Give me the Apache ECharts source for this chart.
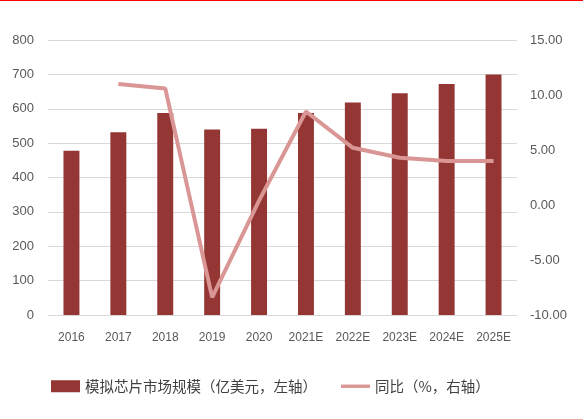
<!DOCTYPE html>
<html>
<head>
<meta charset="utf-8">
<script src="https://cdn.jsdelivr.net/npm/echarts@6/dist/echarts.min.js"></script>
<style>
    html, body { margin: 0; padding: 0; background: #fff; }
    #main {
        width: 583px; height: 420px; box-sizing: border-box;
        border-top: 1px solid #ff0000; border-bottom: 1px solid #f2a7a7;
    }
</style>
</head>
<body>
<div id="main"></div>
<script>
var years = ['2016', '2017', '2018', '2019', '2020', '2021E', '2022E', '2023E', '2024E', '2025E']
var marketSize = [478, 532, 588, 540, 542, 588, 618, 645, 672, 700]   // 亿美元
var yoy = [null, 11.0, 10.6, -8.4, 0.4, 8.5, 5.2, 4.3, 4.0, 4.0]        // %

var barName = '模拟芯片市场规模（亿美元，左轴）'
var lineName = '同比（%，右轴）'
var textColor = '#595959'
var fontFam = 'Liberation Sans, Noto Sans CJK SC, sans-serif'

var myChart = echarts.init(document.getElementById('main'))

var option = {
    animation: false,
    textStyle: { fontFamily: fontFam },
    grid: {
        left: 48,
        right: 66,
        top: 39,
        bottom: 104,
        containLabel: false
    },
    legend: {
        left: 46,
        top: 373,
        itemGap: 24,
        itemWidth: 29,
        itemHeight: 12,
        symbolKeepAspect: true,
        textStyle: {
            color: '#404040',
            fontSize: 14.5,
            fontFamily: 'Noto Sans CJK SC'
        },
        data: [
            { name: barName, icon: 'rect' },
            { name: lineName, icon: 'path://M0,0 L30,0 L30,3.5 L0,3.5 Z' }
        ]
    },
    xAxis: [{
        type: 'category',
        data: years,
        axisTick: { show: false },
        axisLine: { lineStyle: { color: '#d9d9d9', width: 1 } },
        axisLabel: {
            interval: 0,
            margin: 17,
            color: textColor,
            fontSize: 12
        }
    }],
    yAxis: [
        {
            type: 'value',
            min: 0,
            max: 800,
            interval: 100,
            axisLine: { show: false },
            axisTick: { show: false },
            axisLabel: { color: textColor, fontSize: 13, margin: 14 },
            splitLine: { lineStyle: { color: '#d9d9d9', width: 1 } }
        },
        {
            type: 'value',
            min: -10,
            max: 15,
            interval: 5,
            axisLine: { show: false },
            axisTick: { show: false },
            splitLine: { show: false },
            axisLabel: {
                color: textColor,
                fontSize: 13,
                margin: 13,
                formatter: function (v) { return v.toFixed(2) }
            }
        }
    ],
    series: [
        {
            name: barName,
            type: 'bar',
            data: marketSize,
            barWidth: '34%',
            itemStyle: { color: '#943634' }
        },
        {
            name: lineName,
            type: 'line',
            yAxisIndex: 1,
            data: yoy,
            symbol: 'none',
            lineStyle: { color: '#d99694', width: 4 },
            itemStyle: { color: '#d99694' }
        }
    ]
}

myChart.setOption(option)
</script>
</body>
</html>
